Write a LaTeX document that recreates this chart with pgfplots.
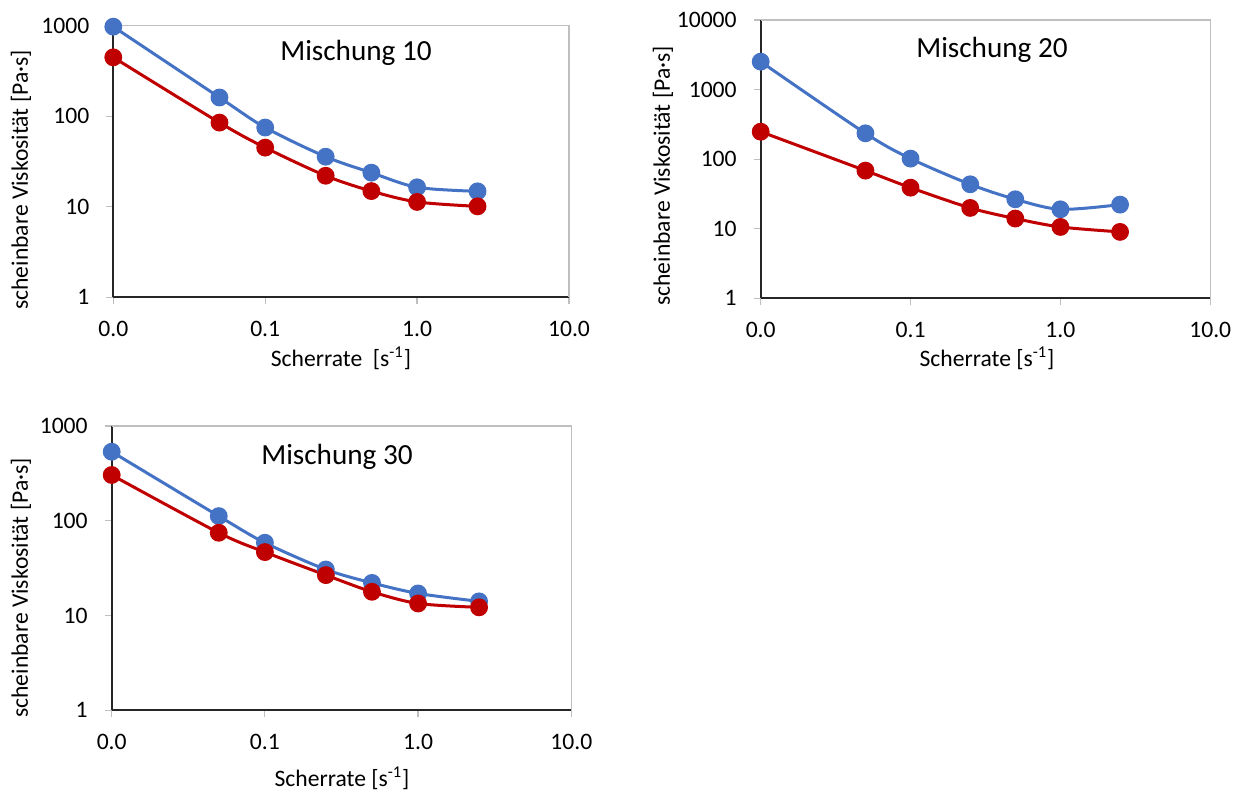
\documentclass[border=0pt]{standalone}
\usepackage{fontspec}
\setmainfont{Carlito}
\usepackage{pgfplots}
\pgfplotsset{compat=1.18}
\definecolor{xlblue}{HTML}{4472C4}
\definecolor{xlred}{HTML}{C00000}
\definecolor{gridgray}{HTML}{BFBFBF}
\definecolor{axdark}{HTML}{262626}
\newcommand{\lblfont}{\fontsize{11.8}{14}\selectfont}
\newcommand{\ttlfont}{\fontsize{14.6}{17}\selectfont}
\pgfplotsset{
  every axis plot/.append style={smooth, tension=0.5, line width=1.5pt, mark=*, mark size=3.7pt},
  every tick/.style={gridgray, line width=0.6pt},
  every minor tick/.style={draw=none},
  minor tick length=0pt,
  tick label style={font=\lblfont, text=black},
  xticklabel style={yshift=-5pt},
  yticklabel style={xshift=-5pt},
}
\newcommand{\frameTR}{\draw[gridgray, line width=0.6pt] (rel axis cs:0,1) -- (rel axis cs:1,1) -- (rel axis cs:1,0);}
\begin{document}
\begin{tikzpicture}
\path[use as bounding box] (0pt,0pt) rectangle (622pt,395.5pt);

% ---------- Mischung 10
\begin{axis}[xmode=log, ymode=log, scale only axis, anchor=south west,
  xmin=0.01, xmax=10, xtick={0.01,0.1,1,10}, xticklabels={0.0,0.1,1.0,10.0},
  minor xtick={}, minor ytick={},
  axis x line*=bottom, axis y line*=left,
  axis line style={axdark, line width=0.9pt},
  tick align=outside, major tick length=3.5pt, clip=false,
  at={(56.65pt,246.85pt)}, width=227.85pt, height=135.8pt,
  ymin=1, ymax=1000, ytick={1,10,100,1000}, yticklabels={1,10,100,1000}]
\frameTR
\addplot[xlblue] table {
0.01 975
0.05 161
0.1 75
0.25 35.7
0.5 23.8
1 16.4
2.5 14.8
};
\addplot[xlred] table {
0.01 447
0.05 85
0.1 45
0.25 22
0.5 14.9
1 11.3
2.5 10.1
};
\end{axis}
\node[font=\ttlfont, inner sep=0] at (178pt,369pt) {Mischung 10};
\node[font=\lblfont, inner sep=0, rotate=90] at (10.5pt,305.5pt) {scheinbare Viskosität [Pa·s]};
\node[font=\lblfont, inner sep=0] at (170.5pt,216.5pt) {Scherrate\ \ [s\textsuperscript{-1}]};

% ---------- Mischung 20
\begin{axis}[xmode=log, ymode=log, scale only axis, anchor=south west,
  xmin=0.01, xmax=10, xtick={0.01,0.1,1,10}, xticklabels={0.0,0.1,1.0,10.0},
  minor xtick={}, minor ytick={},
  axis x line*=bottom, axis y line*=left,
  axis line style={axdark, line width=0.9pt},
  tick align=outside, major tick length=3.5pt, clip=false,
  at={(380.35pt,246.35pt)}, width=224.8pt, height=139.15pt,
  ymin=1, ymax=10000, ytick={1,10,100,1000,10000}, yticklabels={1,10,100,1000,10000}]
\frameTR
\addplot[xlblue] table {
0.01 2518
0.05 235
0.1 101.7
0.25 43.5
0.5 26.5
1 19.0
2.5 22.2
};
\addplot[xlred] table {
0.01 248
0.05 68.4
0.1 38.9
0.25 19.9
0.5 14.0
1 10.6
2.5 9.0
};
\end{axis}
\node[font=\ttlfont, inner sep=0] at (496pt,370.5pt) {Mischung 20};
\node[font=\lblfont, inner sep=0, rotate=90] at (331.5pt,307.5pt) {scheinbare Viskosität [Pa·s]};
\node[font=\lblfont, inner sep=0] at (493.5pt,216.5pt) {Scherrate [s\textsuperscript{-1}]};

% ---------- Mischung 30
\begin{axis}[xmode=log, ymode=log, scale only axis, anchor=south west,
  xmin=0.01, xmax=10, xtick={0.01,0.1,1,10}, xticklabels={0.0,0.1,1.0,10.0},
  minor xtick={}, minor ytick={},
  axis x line*=bottom, axis y line*=left,
  axis line style={axdark, line width=0.9pt},
  tick align=outside, major tick length=3.5pt, clip=false,
  at={(55.85pt,40.35pt)}, width=229.8pt, height=142.15pt,
  ymin=1, ymax=1000, ytick={1,10,100,1000}, yticklabels={1,10,100,1000}]
\frameTR
\addplot[xlblue] table {
0.01 535
0.05 112
0.1 58.6
0.25 30.6
0.5 22.1
1 17.1
2.5 14.1
};
\addplot[xlred] table {
0.01 304
0.05 74.7
0.1 46.7
0.25 26.7
0.5 17.8
1 13.4
2.5 12.2
};
\end{axis}
\node[font=\ttlfont, inner sep=0] at (168.5pt,167pt) {Mischung 30};
\node[font=\lblfont, inner sep=0, rotate=90] at (10.5pt,101.5pt) {scheinbare Viskosität [Pa·s]};
\node[font=\lblfont, inner sep=0] at (171pt,6.5pt) {Scherrate [s\textsuperscript{-1}]};
\end{tikzpicture}
\end{document}
